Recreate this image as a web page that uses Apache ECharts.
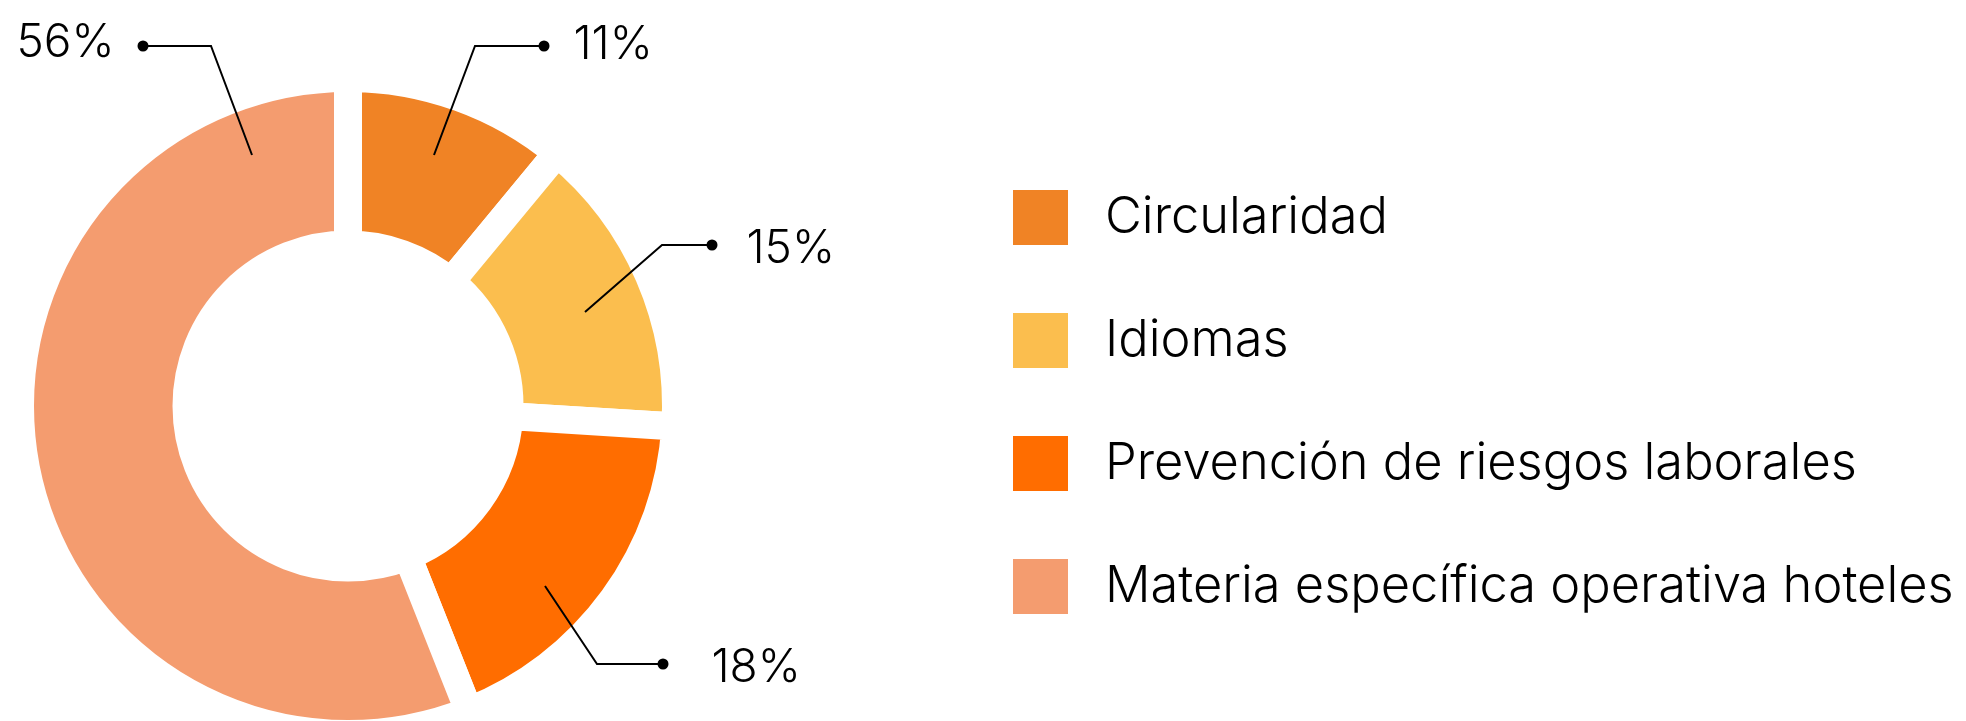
<!DOCTYPE html>
<html>
<head>
<meta charset="utf-8">
<script src="https://cdn.jsdelivr.net/npm/echarts@6/dist/echarts.min.js"></script>
<style>
  html, body { margin: 0; padding: 0; background: #fff; }
  #main { width: 1966px; height: 721px; }
</style>
</head>
<body>
<div id="main"></div>
<script>
// data
const categories = ['Circularidad', 'Idiomas', 'Prevención de riesgos laborales', 'Materia específica operativa hoteles'];
const shares = [11, 15, 18, 56];
const colors = ['#F08325', '#FBBE4E', '#FF6D00', '#F49C6F'];

// hand placed leader lines (start in ring, elbow, dot), same order as categories
const leaders = [
  { line: [[434, 155], [475, 46], [544, 46]], side: 'right', gap: 24, shift: -1 },
  { line: [[585, 312], [662, 245], [712, 245]], side: 'right', gap: 29, shift: 4.5 },
  { line: [[545, 586], [597, 664], [663, 664]], side: 'right', gap: 43, shift: 4 },
  { line: [[252, 155], [211, 46], [143, 46]], side: 'left', gap: 23, shift: -3 }
];

const FONT = 'Inter';
const DOT = 11;
const CENTER = [348, 406];
const RADIUS = [161.5, 328];

const rich = {
  d: { width: DOT, height: DOT, borderRadius: DOT / 2, backgroundColor: '#000' }
};
leaders.forEach((l, i) => {
  const pad = [0, 0, 0, 0];
  if (l.shift > 0) pad[0] = l.shift * 2; else pad[2] = -l.shift * 2;
  if (l.side === 'right') pad[3] = l.gap; else pad[1] = l.gap;
  rich['v' + i] = {
    fontFamily: FONT, fontWeight: 300, fontSize: 46, color: '#000', padding: pad
  };
});

const pieData = categories.map((name, i) => ({ name: name, value: shares[i] }));

const chart = echarts.init(document.getElementById('main'), null, { renderer: 'canvas' });

chart.setOption({
  animation: false,
  color: colors,
  legend: {
    orient: 'vertical',
    left: 1011,
    top: 188,
    padding: 0,
    itemWidth: 57,
    itemHeight: 57,
    itemGap: 64,
    icon: 'rect',
    selectedMode: false,
    data: categories,
    textStyle: {
      fontFamily: FONT,
      fontWeight: 300,
      fontSize: 50.6,
      lineHeight: 57,
      color: '#000',
      padding: [0, 0, 0, 31]
    }
  },
  series: [
    {
      // the ring
      type: 'pie',
      z: 2,
      center: CENTER,
      radius: RADIUS,
      startAngle: 90,
      clockwise: true,
      silent: true,
      emphasis: { disabled: true },
      itemStyle: { borderColor: '#fff', borderWidth: 28 },
      label: { show: false },
      labelLine: { show: false },
      data: pieData
    },
    {
      // same slices, invisible, only carries the labels so the lines sit on top of the ring
      type: 'pie',
      z: 3,
      center: CENTER,
      radius: RADIUS,
      startAngle: 90,
      clockwise: true,
      avoidLabelOverlap: false,
      silent: true,
      emphasis: { disabled: true },
      itemStyle: { color: 'rgba(0,0,0,0)', borderWidth: 0 },
      label: {
        show: true,
        position: 'outside',
        formatter: function (p) {
          const l = leaders[p.dataIndex];
          const v = '{v' + p.dataIndex + '|' + p.value + '%}';
          return l.side === 'right' ? '{d|}' + v : v + '{d|}';
        },
        rich: rich
      },
      labelLine: {
        show: true,
        showAbove: true,
        lineStyle: { color: '#000', width: 2, opacity: 1 }
      },
      labelLayout: function (params) {
        const l = leaders[params.dataIndex];
        const end = l.line[2];
        return {
          x: l.side === 'right' ? end[0] - DOT / 2 : end[0] + DOT / 2,
          y: end[1],
          align: l.side === 'right' ? 'left' : 'right',
          verticalAlign: 'middle',
          labelLinePoints: l.line
        };
      },
      data: pieData
    }
  ]
});
</script>
</body>
</html>
